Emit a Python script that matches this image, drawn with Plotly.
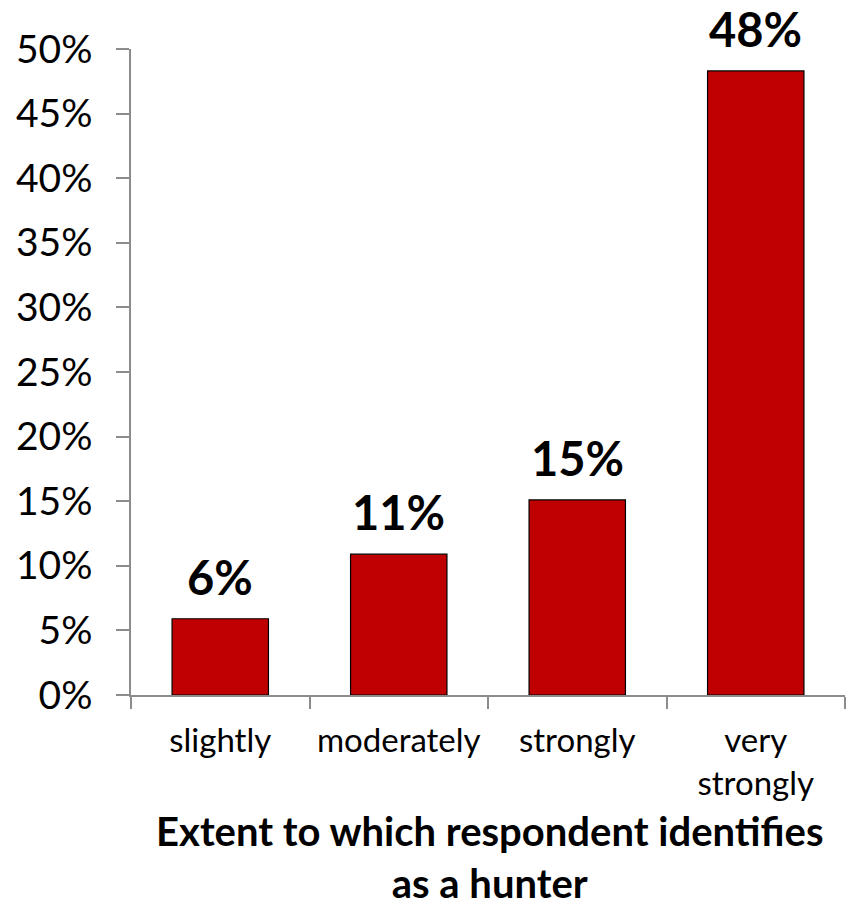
import plotly.graph_objects as go

categories = ["slightly", "moderately", "strongly", "very<br>strongly"]
values = [5.9, 10.9, 15.1, 48.3]
labels = ["6%", "11%", "15%", "48%"]
y_ticks = [0, 5, 10, 15, 20, 25, 30, 35, 40, 45, 50]
y_tick_text = [f"{v}%" for v in y_ticks]
x_title_lines = ["Extent to which respondent identifies", "as a hunter"]

FONT = "Lato"
AXIS = "#8c8c8c"

fig = go.Figure(go.Bar(
    x=categories, y=values,
    marker=dict(color="#C00000", line=dict(color="black", width=1.2)),
    width=0.54,
))

for c, v, t in zip(categories, values, labels):
    fig.add_annotation(
        x=c, y=v, text=f"<b>{t}</b>", showarrow=False,
        xanchor="center", yanchor="bottom", yshift=12,
        font=dict(family=FONT, size=47, color="black"),
    )

fig.update_layout(
    width=852, height=913, autosize=False,
    margin=dict(l=131, r=7, t=49, b=218),
    plot_bgcolor="white", paper_bgcolor="white",
    showlegend=False,
    font=dict(family=FONT, color="black"),
)
fig.update_yaxes(
    range=[0, 50], tickvals=y_ticks, ticktext=y_tick_text,
    showgrid=False, zeroline=False,
    showline=True, linecolor=AXIS, linewidth=1.5,
    ticks="outside", ticklen=13, tickcolor=AXIS, tickwidth=1.5,
    tickfont=dict(family=FONT, size=39, color="black"),
    ticklabelstandoff=16,
)
fig.update_xaxes(
    showgrid=False, zeroline=False,
    showline=True, linecolor=AXIS, linewidth=1.5,
    ticks="outside", ticklen=12, tickcolor=AXIS, tickwidth=1.5,
    tickson="boundaries",
    tickfont=dict(family=FONT, size=33, color="black"),
    ticklabelstandoff=16,
)
fig.add_annotation(
    text="<b>" + "<br>".join(x_title_lines) + "</b>",
    xref="paper", yref="paper", x=0.503, y=-0.332,
    xanchor="center", yanchor="bottom", showarrow=False,
    font=dict(family=FONT, size=40, color="black"),
)

fig.write_html("out.html")
